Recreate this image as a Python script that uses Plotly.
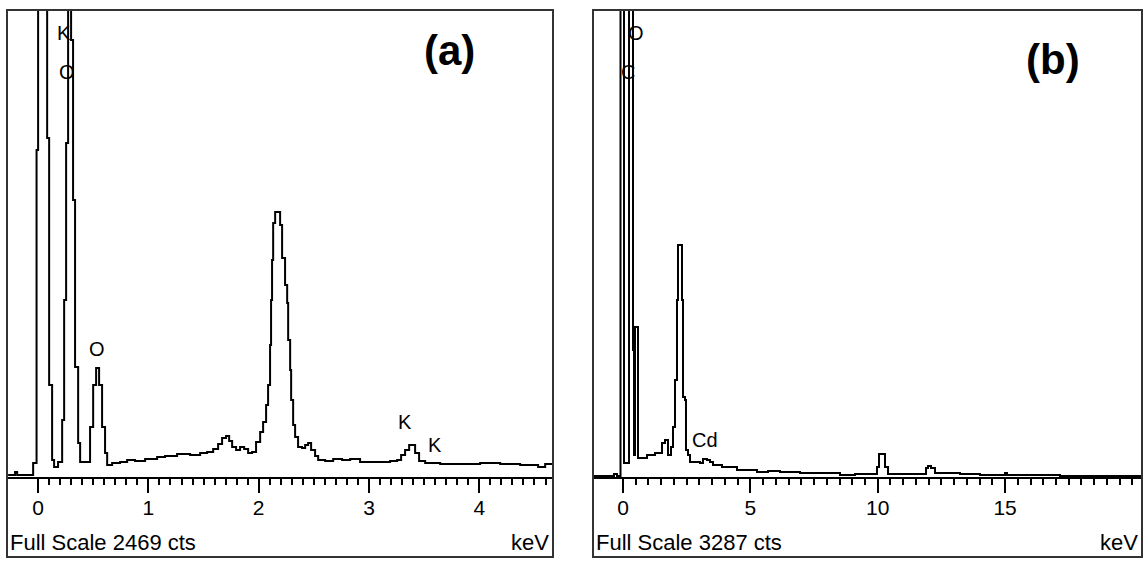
import numpy as np
import plotly.graph_objects as go

W, H = 1146, 565

# ---------------- data : panel (a) ----------------
a_kev = [-0.272, -0.218, -0.209, -0.190, -0.045, -0.014, 0.000, 0.082, 0.100, 0.127, 0.145, 0.181,
         0.218, 0.236, 0.254, 0.272, 0.299, 0.317, 0.335, 0.363, 0.381, 0.453,
         0.471, 0.499, 0.526, 0.553, 0.580, 0.607, 0.626,
         0.671, 0.743, 0.807, 0.879, 0.970, 1.079, 1.151, 1.260, 1.378, 1.469, 1.532, 1.587,
         1.632, 1.668, 1.704, 1.732, 1.759, 1.795, 1.831, 1.868, 1.904, 1.940, 1.976, 2.013,
         2.040, 2.067, 2.085, 2.103, 2.112, 2.121, 2.131, 2.149, 2.176, 2.194, 2.212, 2.239,
         2.258, 2.267, 2.285, 2.294, 2.312, 2.330, 2.357, 2.393, 2.421, 2.448, 2.475, 2.511,
         2.539, 2.602, 2.675, 2.756, 2.829, 2.919, 3.055, 3.191, 3.255, 3.291, 3.327, 3.364,
         3.391, 3.418, 3.454, 3.509, 3.645, 3.826, 4.007, 4.189, 4.370, 4.506, 4.533, 4.597, 4.669]
a_cts = [11, 11, 26, 11, 74, 1729, 3300, 1792, 486, 90, 53, 79,
         301, 936, 1766, 2600, 2310, 1464, 582, 180, 79, 79,
         264, 486, 576, 486, 264, 127, 63,
         74, 79, 90, 85, 95, 106, 111, 122, 116, 127, 132, 148,
         174, 206, 217, 190, 159, 143, 159, 148, 127, 132, 185, 238,
         291, 381, 486, 698, 936, 1147, 1343, 1401, 1401, 1332, 1158, 1015,
         920, 724, 566, 407, 275, 211, 159, 153, 169, 180, 143, 111,
         90, 85, 95, 90, 95, 79, 79, 85, 90, 116, 143, 169,
         169, 127, 85, 74, 69, 69, 74, 69, 63, 63, 53, 69, 74]
a_full_scale = 2469
a_range = [-0.282, 4.668]
a_major_ticks = [0, 1, 2, 3, 4]
a_minor_step = 0.1
a_peak_text = ["K", "O", "O", "K", "K"]
a_peak_kev = [0.236, 0.263, 0.535, 3.327, 3.599]
a_peak_cts = [2347, 2141, 677, 291, 169]

# ---------------- data : panel (b) ----------------
b_kev = [-1.178, -0.432, -0.353, -0.236, -0.118, -0.098, 0.000, 0.039, 0.196, 0.236, 0.353,
         0.393, 0.432, 0.471, 0.589, 0.942, 1.256, 1.531, 1.649, 1.767, 1.885, 1.963, 2.042,
         2.120, 2.159, 2.277, 2.316, 2.356, 2.434, 2.473, 2.552, 2.631, 2.905, 3.023, 3.141,
         3.298, 3.416, 3.534, 3.887, 4.201, 4.476, 4.790, 5.261, 5.693, 6.164, 6.950, 7.460,
         8.520, 9.109, 9.816, 9.973, 10.051, 10.208, 10.287, 10.405, 11.779, 11.897, 11.975,
         12.093, 12.250, 13.231, 14.017, 14.920, 14.998, 15.077, 17.158, 20.377]
b_cts = [7, 7, 21, 7, 7, 4500, 4500, 99, 99, 4500, 4500,
         894, 155, 1056, 134, 155, 169, 239, 260, 155, 211, 352, 683,
         1246, 1633, 1633, 1246, 563, 542, 190, 155, 106, 106, 99, 127,
         120, 106, 84, 70, 70, 49, 49, 35, 42, 35, 28, 28,
         14, 21, 21, 70, 162, 162, 70, 21, 21, 63, 77,
         63, 28, 21, 14, 14, 28, 14, 7, 7]
b_full_scale = 3287
b_range = [-1.178, 20.377]
b_major_ticks = [0, 5, 10, 15]
b_minor_step = 0.5
b_peak_text = ["O", "C", "Cd"]
b_peak_kev = [0.510, 0.196, 3.219]
b_peak_cts = [3125, 2851, 260]

# ---------------- layout geometry (pixels) ----------------
FONT = "Liberation Sans"
panels = [
    dict(box=(7, 553), xr=a_range, kev=a_kev, cts=a_cts, fs=a_full_scale, major=a_major_ticks,
         step=a_minor_step, ptxt=a_peak_text, pk=a_peak_kev, pc=a_peak_cts, tag="(a)", tagpos=(449, 50)),
    dict(box=(593, 1142), xr=b_range, kev=b_kev, cts=b_cts, fs=b_full_scale, major=b_major_ticks,
         step=b_minor_step, ptxt=b_peak_text, pk=b_peak_kev, pc=b_peak_cts, tag="(b)", tagpos=(1053, 60)),
]
TOP, PLOT_BOTTOM, FRAME_BOTTOM = 10, 477, 557


def px(x):
    return x / W


def py(y):
    return 1 - y / H


fig = go.Figure()
layout = {}
annotations = []
shapes = []
for i, p in enumerate(panels):
    n = "" if i == 0 else str(i + 1)
    xa, ya = "x" + n, "y" + n
    fig.add_trace(go.Scatter(x=p["kev"], y=p["cts"], mode="lines", line=dict(color="black", width=2, shape="hv"),
                             xaxis=xa, yaxis=ya, showlegend=False, hoverinfo="skip"))
    minor_vals = list(np.round(np.arange(0, p["xr"][1] + 1e-9, p["step"]), 3))
    layout["xaxis" + n] = dict(
        domain=[px(p["box"][0]), px(p["box"][1])], range=p["xr"], anchor=ya,
        showgrid=False, zeroline=False, showline=True, linecolor="black", linewidth=2,
        ticks="outside", ticklen=14, tickwidth=2, tickcolor="black",
        tickmode="array", tickvals=p["major"], ticktext=[str(v) for v in p["major"]],
        tickfont=dict(family=FONT, size=21, color="black"), ticklabelstandoff=-3,
        minor=dict(ticks="outside", ticklen=6, tickwidth=2, tickcolor="black",
                   tickmode="array", tickvals=minor_vals, showgrid=False),
        fixedrange=True,
    )
    layout["yaxis" + n] = dict(domain=[py(PLOT_BOTTOM), py(TOP)], range=[0, p["fs"]], anchor=xa,
                               visible=False, fixedrange=True)
    # frame
    shapes.append(dict(type="rect", xref="paper", yref="paper", x0=px(p["box"][0]), x1=px(p["box"][1]),
                       y0=py(FRAME_BOTTOM), y1=py(TOP), line=dict(color="#333333", width=2)))
    # footer texts
    annotations.append(dict(xref="paper", yref="paper", x=px(p["box"][0] + 1), y=py(542),
                            xanchor="left", yanchor="middle", showarrow=False,
                            text=f"Full Scale {p['fs']} cts", font=dict(family=FONT, size=22, color="black")))
    annotations.append(dict(xref="paper", yref="paper", x=px(p["box"][1] - 2), y=py(542),
                            xanchor="right", yanchor="middle", showarrow=False,
                            text="keV", font=dict(family=FONT, size=22, color="black")))
    # panel tag
    annotations.append(dict(xref="paper", yref="paper", x=px(p["tagpos"][0]), y=py(p["tagpos"][1]),
                            xanchor="center", yanchor="middle", showarrow=False,
                            text=f"<b>{p['tag']}</b>", font=dict(family=FONT, size=42, color="black")))
    # peak labels
    for t, kx, ky in zip(p["ptxt"], p["pk"], p["pc"]):
        annotations.append(dict(xref=xa, yref=ya, x=kx, y=ky, xanchor="center", yanchor="middle",
                                showarrow=False, text=t, font=dict(family=FONT, size=20, color="black")))

fig.update_layout(width=W, height=H, autosize=False, margin=dict(l=0, r=0, t=0, b=0),
                  paper_bgcolor="white", plot_bgcolor="white",
                  annotations=annotations, shapes=shapes, **layout)
fig.write_html("out.html", config={"displayModeBar": False, "staticPlot": True},
               post_script="document.body.style.margin='0';document.body.style.padding='0';")
